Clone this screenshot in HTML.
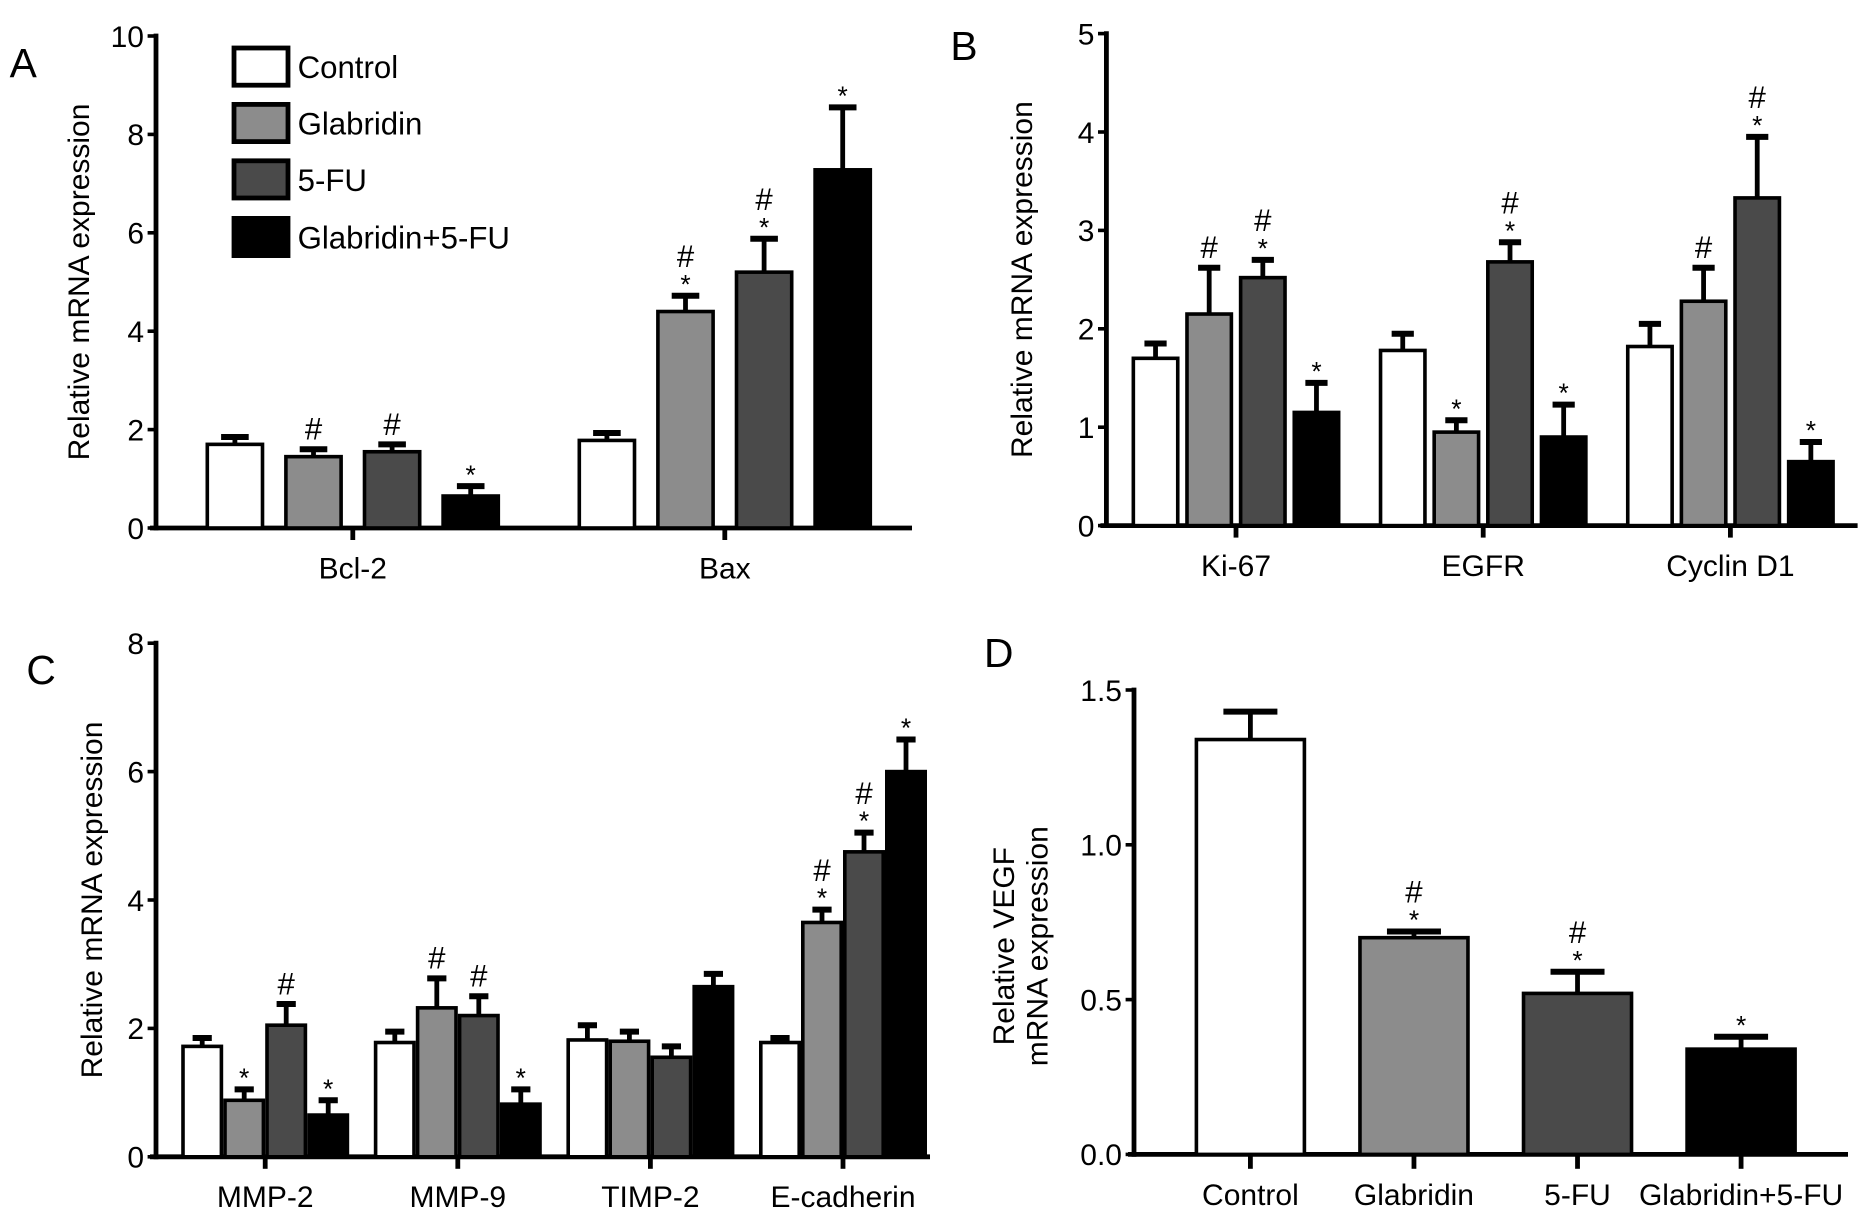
<!DOCTYPE html>
<html><head><meta charset="utf-8">
<style>
html,body{margin:0;padding:0;background:#fff;}
svg{display:block;}
text{font-family:"Liberation Sans",sans-serif;fill:#000;}
</style></head>
<body>
<svg id="fig" width="1876" height="1221" viewBox="0 0 1563.33 1017.5" xmlns="http://www.w3.org/2000/svg"></svg>
<script>
// ---- shared ----
const seriesNames = ["Control","Glabridin","5-FU","Glabridin+5-FU"];
const seriesColors = ["#ffffff","#8c8c8c","#4a4a4a","#000000"];

// ---- Panel A ----
const aCategories = ["Bcl-2","Bax"];
const aMeans = [[1.7,1.45,1.55,0.65],[1.78,4.4,5.2,7.28]];
const aErrs = [[0.15,0.15,0.15,0.2],[0.15,0.32,0.68,1.27]];
const aMarks = [["","#","#","*"],["","#*","#*","*"]];
const aTicks = [0,2,4,6,8,10];
// ---- Panel B ----
const bCategories = ["Ki-67","EGFR","Cyclin D1"];
const bMeans = [[1.7,2.15,2.52,1.15],[1.78,0.95,2.68,0.9],[1.82,2.28,3.33,0.65]];
const bErrs = [[0.15,0.47,0.18,0.3],[0.17,0.12,0.2,0.33],[0.23,0.34,0.62,0.2]];
const bMarks = [["","#","#*","*"],["","*","#*","*"],["","#","#*","*"]];
const bTicks = [0,1,2,3,4,5];
// ---- Panel C ----
const cCategories = ["MMP-2","MMP-9","TIMP-2","E-cadherin"];
const cMeans = [[1.72,0.88,2.05,0.65],[1.78,2.32,2.2,0.82],[1.82,1.8,1.55,2.65],[1.78,3.65,4.75,6.0]];
const cErrs = [[0.13,0.17,0.33,0.23],[0.17,0.46,0.3,0.23],[0.23,0.15,0.17,0.2],[0.07,0.2,0.3,0.5]];
const cMarks = [["","*","#","*"],["","#","#","*"],["","","",""],["","#*","#*","*"]];
const cTicks = [0,2,4,6,8];
// ---- Panel D ----
const dCategories = ["Control","Glabridin","5-FU","Glabridin+5-FU"];
const dMeans = [1.34,0.70,0.52,0.34];
const dErrs = [0.09,0.02,0.07,0.04];
const dMarks = ["","#*","#*","*"];
const dTicks = ["0.0","0.5","1.0","1.5"];

const NS="http://www.w3.org/2000/svg";
const svg=document.getElementById('fig');
function mk(tag,attrs,parent){const e=document.createElementNS(NS,tag);for(const k in attrs)e.setAttribute(k,attrs[k]);(parent||svg).appendChild(e);return e;}
function txt(s,attrs,parent){const e=mk('text',attrs,parent);e.textContent=s;return e;}

function drawMark(g,cx,topY,mark){
  let hashY=topY-8;
  if(mark.includes('*')){
    const t=txt('*',{x:cx,y:topY-2,'font-size':22,'text-anchor':'middle'},g);
    
    
    hashY=topY-24;
  }
  if(mark.includes('#')){
    const t=txt('#',{x:cx,y:hashY,'font-size':26,'text-anchor':'middle','font-family':'Liberation Serif'},g);
    
    
  }
}

function drawBar(g,cx,w,yScale,mean,err,color,mark,name){
  const y0=yScale(0), yt=yScale(mean), ye=yScale(mean+err);
  const capW=w*0.5;
  const l=mk('line',{x1:cx,x2:cx,y1:yt,y2:ye,stroke:'#000','stroke-width':4},g);
  
  
  const c=mk('line',{x1:cx-capW/2,x2:cx+capW/2,y1:ye,y2:ye,stroke:'#000','stroke-width':5},g);
  
  
  const r=mk('rect',{x:cx-w/2,y:yt,width:w,height:y0-yt,fill:color,stroke:'#000','stroke-width':3},g);
  
  
  if(mark) drawMark(g,cx,ye,mark);
}

function axes(g,cfg){
  const {x0,x1,y0,yTop,yScale,ticks,tickLabels,title,titleX,letter,lx,ly}=cfg;
  const ya=mk('line',{x1:x0,x2:x0,y1:yTop-2,y2:y0+2,stroke:'#000','stroke-width':4},g);
  
  
  const xa=mk('line',{x1:x0-5,x2:x1,y1:y0,y2:y0,stroke:'#000','stroke-width':4},g);
  
  
  ticks.forEach((v,i)=>{
    const y=yScale(v);
    const t=mk('line',{x1:x0-7,x2:x0,y1:y,y2:y,stroke:'#000','stroke-width':3},g);
    
    
    const lb=txt(tickLabels[i],{x:x0-10,y:y+9,'font-size':25,'text-anchor':'end'},g);
    
    
  });
  const midY=(y0+yTop)/2;
  if(Array.isArray(title)){
    title.forEach((s,i)=>{
      const tt=txt(s,{x:titleX+i*28,y:midY+20,'font-size':25,'text-anchor':'middle',transform:`rotate(-90 ${titleX+i*28} ${midY+20})`},g);
      
      
    });
  } else {
    const tt=txt(title,{x:titleX,y:midY,'font-size':25,'text-anchor':'middle',transform:`rotate(-90 ${titleX} ${midY})`},g);
    
    
  }
  const L=txt(letter,{x:lx,y:ly,'font-size':34},g);
  
  
}

function groupedPanel(name,cats,means,errs,marks,ticks,cfg){
  const g=mk('g',{});
  
  
  const yMax=ticks[ticks.length-1];
  const yScale=v=>cfg.y0-(v/yMax)*(cfg.y0-cfg.yTop);
  const xScale=i=>cfg.gx0+i*cfg.gStep;
  axes(g,{...cfg,yScale,ticks,tickLabels:ticks.map(String)});
  cats.forEach((cat,ci)=>{
    const gc=xScale(ci);
    const tk=mk('line',{x1:gc,x2:gc,y1:cfg.y0,y2:cfg.y0+10,stroke:'#000','stroke-width':4},g);
    
    
    const lb=txt(cat,{x:gc,y:cfg.y0+42,'font-size':25,'text-anchor':'middle'},g);
    
    
    for(let s=0;s<4;s++){
      const cx=gc+(s-1.5)*cfg.spacing;
      drawBar(g,cx,cfg.bw,yScale,means[ci][s],errs[ci][s],seriesColors[s],marks[ci][s],'bar-'+cat.toLowerCase().replace(/[^a-z0-9]+/g,'')+'-'+s);
    }
  });
  return g;
}

groupedPanel('panel-a',aCategories,aMeans,aErrs,aMarks,aTicks,
  {x0:130,x1:760,y0:440,yTop:30,gx0:294,gStep:310,spacing:65.5,bw:46,title:'Relative mRNA expression',titleX:74,letter:'A',lx:8,ly:64});
groupedPanel('panel-b',bCategories,bMeans,bErrs,bMarks,bTicks,
  {x0:922,x1:1548,y0:438,yTop:28,gx0:1030,gStep:206,spacing:44.7,bw:37,title:'Relative mRNA expression',titleX:860,letter:'B',lx:792,ly:50});
groupedPanel('panel-c',cCategories,cMeans,cErrs,cMarks,cTicks,
  {x0:130,x1:775,y0:964,yTop:536,gx0:221,gStep:160.5,spacing:35,bw:32,title:'Relative mRNA expression',titleX:85,letter:'C',lx:22,ly:570});

// legend (panel A)
(function(){
  const g=mk('g',{});
  
  
  const ys=[40,87,134,182];
  seriesNames.forEach((n,i)=>{
    const r=mk('rect',{x:195,y:ys[i],width:45,height:31,fill:seriesColors[i],stroke:'#000','stroke-width':4},g);
    
    
    const t=txt(n,{x:248,y:ys[i]+25,'font-size':26},g);
    
    
  });
})();

// Panel D
(function(){
  const g=mk('g',{});
  
  
  const y0=962,yTop=575,yMax=parseFloat(dTicks[dTicks.length-1]);
  const yScale=v=>y0-(v/yMax)*(y0-yTop);
  const xScale=i=>1042+i*136.3;
  axes(g,{x0:945,x1:1540,y0,yTop,yScale,ticks:dTicks.map(parseFloat),tickLabels:dTicks,
    title:['Relative VEGF','mRNA expression'],titleX:845,letter:'D',lx:820,ly:556});
  dCategories.forEach((cat,i)=>{
    const cx=xScale(i);
    const tk=mk('line',{x1:cx,x2:cx,y1:y0,y2:y0+12,stroke:'#000','stroke-width':4},g);
    
    
    const lb=txt(cat,{x:cx,y:y0+42,'font-size':25,'text-anchor':'middle'},g);
    
    
    drawBar(g,cx,90,yScale,dMeans[i],dErrs[i],seriesColors[i],dMarks[i],'bar-vegf-'+i);
  });
})();
</script>
</body></html>
